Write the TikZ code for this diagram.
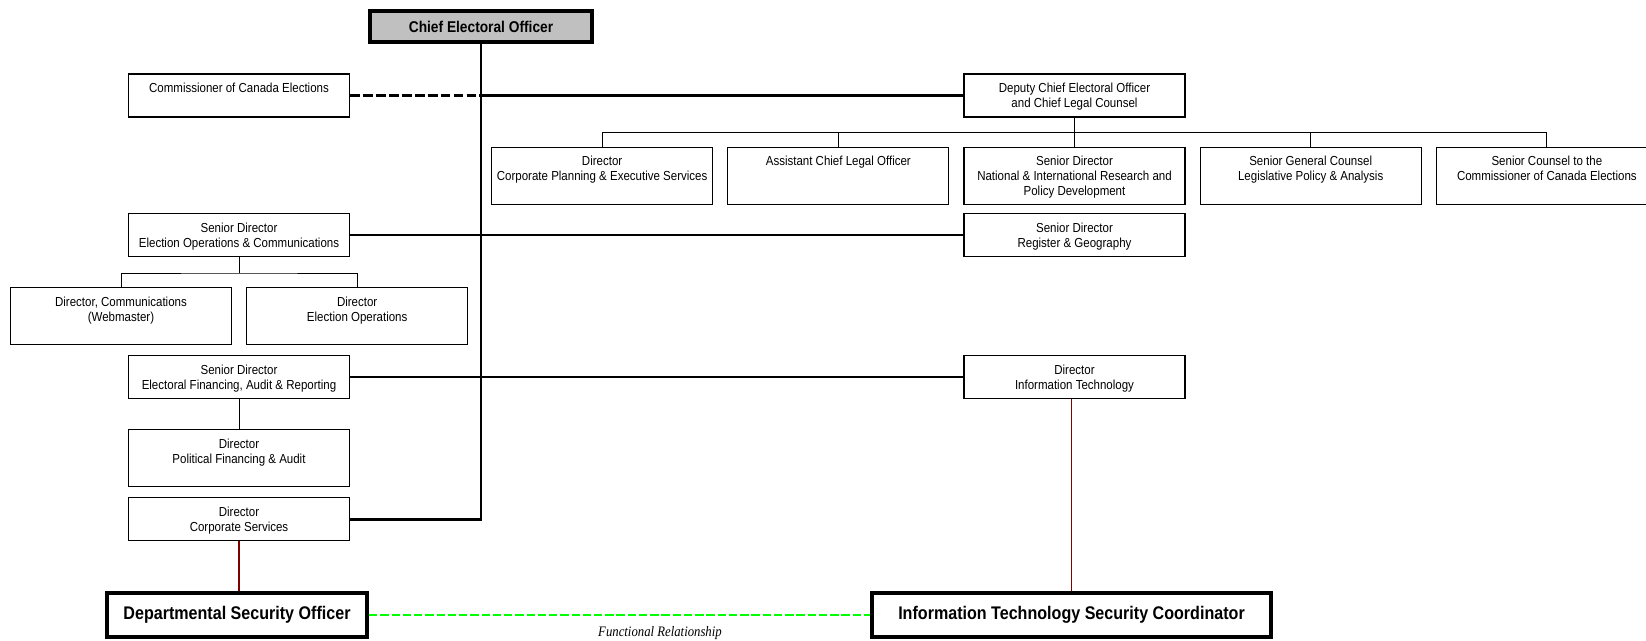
\documentclass[tikz,border=0pt]{standalone}
\usepackage{fontspec}
\setmainfont{Liberation Sans}[FakeStretch=0.88]
\newfontfamily\notefont{Liberation Serif}[FakeStretch=0.88]
\usepackage{xcolor}
\usepackage{tikz}
\usetikzlibrary{positioning, calc}

\definecolor{ceogray}{HTML}{C0C0C0}
\definecolor{secred}{HTML}{800000}
\definecolor{funcgreen}{HTML}{00FF00}

% unit text sits at the top of its box
\newcommand{\unittext}[2][1.075cm]{\parbox[c][#1][t]{5.525cm}{\centering\rule{0pt}{13.3pt}#2}}

\begin{document}
\begin{tikzpicture}[
    x=0.025cm, y=-0.025cm,
    unit/.style={rectangle, draw=black, line width=0.8pt, fill=white, inner sep=0pt, font=\fontsize{9.3}{10.7}\selectfont},
    chief/.style={rectangle, draw=black, line width=2.8pt, fill=ceogray, minimum width=5.55cm, minimum height=0.775cm, inner sep=0pt, font=\bfseries\fontsize{11.1}{13}\selectfont},
    security/.style={rectangle, draw=black, line width=2.8pt, fill=white, minimum height=1.1cm, inner sep=0pt, font=\bfseries\fontsize{13}{15}\selectfont},
    trunk/.style={line width=2pt},
    bus/.style={line width=0.6pt},
    liaison/.style={line width=2pt, dash pattern=on 7pt off 2.2pt},
    secline/.style={secred, line width=1pt},
    functional/.style={funcgreen, line width=1.7pt, dash pattern=on 6pt off 2pt},
    note/.style={font=\notefont\itshape\fontsize{10.3}{12}\selectfont}
]
\useasboundingbox (0,0) rectangle (1646,640);

% Chief
\node[chief] (ceo) at (481,26.5) {Chief Electoral Officer};

% Left column
\node[unit] (commissioner) at (239,95.5) {\unittext{Commissioner of Canada Elections}};
\node[unit] (elecops) at (239,235) {\unittext{Senior Director\\Election Operations \& Communications}};
\node[unit] (webmaster) at (121,316) {\unittext[1.425cm]{Director, Communications\\(Webmaster)}};
\node[unit, right=0.35cm of webmaster] (elections) {\unittext[1.425cm]{Director\\Election Operations}};
\node[unit] (financing) at (239,377) {\unittext{Senior Director\\Electoral Financing, Audit \& Reporting}};
\node[unit, below=0.75cm of financing] (polfin) {\unittext[1.425cm]{Director\\Political Financing \& Audit}};
\node[unit, below=0.25cm of polfin] (corporate) {\unittext{Director\\Corporate Services}};

% Right column
\node[unit] (deputy) at (1074.5,95.5) {\unittext{Deputy Chief Electoral Officer\\and Chief Legal Counsel}};
\node[unit, below=0.725cm of deputy] (research) {\unittext[1.425cm]{Senior Director\\National \& International Research and\\Policy Development}};
\node[unit, left=0.35cm of research] (legal) {\unittext[1.425cm]{Assistant Chief Legal Officer}};
\node[unit, left=0.35cm of legal] (planning) {\unittext[1.425cm]{Director\\Corporate Planning \& Executive Services}};
\node[unit, right=0.35cm of research] (general) {\unittext[1.425cm]{Senior General Counsel\\Legislative Policy \& Analysis}};
\node[unit, right=0.35cm of general] (counsel) {\unittext[1.425cm]{Senior Counsel to the\\Commissioner of Canada Elections}};
\node[unit] (register) at (1074.5,235) {\unittext{Senior Director\\Register \& Geography}};
\node[unit] (infotech) at (1074.5,377) {\unittext{Director\\Information Technology}};

% Security
\node[security, minimum width=6.5cm] (dso) at (237,615) {Departmental Security Officer};
\node[security, minimum width=9.975cm] (itsc) at (1071.5,615) {Information Technology Security Coordinator};
\node[note] (funcnote) at (660,633) {Functional Relationship};

% Reporting lines
\draw[trunk] (ceo.south) |- (corporate.east);
\draw[liaison] (commissioner.east) -- (commissioner.east -| ceo.south);
\draw[trunk] (commissioner.east -| ceo.south) -- (deputy.west);
\draw[trunk] (elecops.east) -- (register.west);
\draw[trunk] (financing.east) -- (infotech.west);

\coordinate (legalbus) at (1074.5,132);
\draw[bus] (deputy.south) -- (legalbus);
\draw[bus] (planning.north |- legalbus) -- (counsel.north |- legalbus);
\foreach \unit in {planning, legal, research, general, counsel}
    \draw[bus] (\unit.north) -- (\unit.north |- legalbus);

\coordinate (opsbus) at (239,273);
\draw[bus] (elecops.south) -- (opsbus);
\draw[bus] (webmaster.north) |- (opsbus) -| (elections.north);
\draw[bus] (financing.south) -- (polfin.north);

% Security lines
\draw[secline] (corporate.south) -- (corporate.south |- dso.north);
\draw[secline] (infotech.south -| itsc.north) -- (itsc.north);
\draw[functional] (dso.east) -- (itsc.west);

\end{tikzpicture}
\end{document}
